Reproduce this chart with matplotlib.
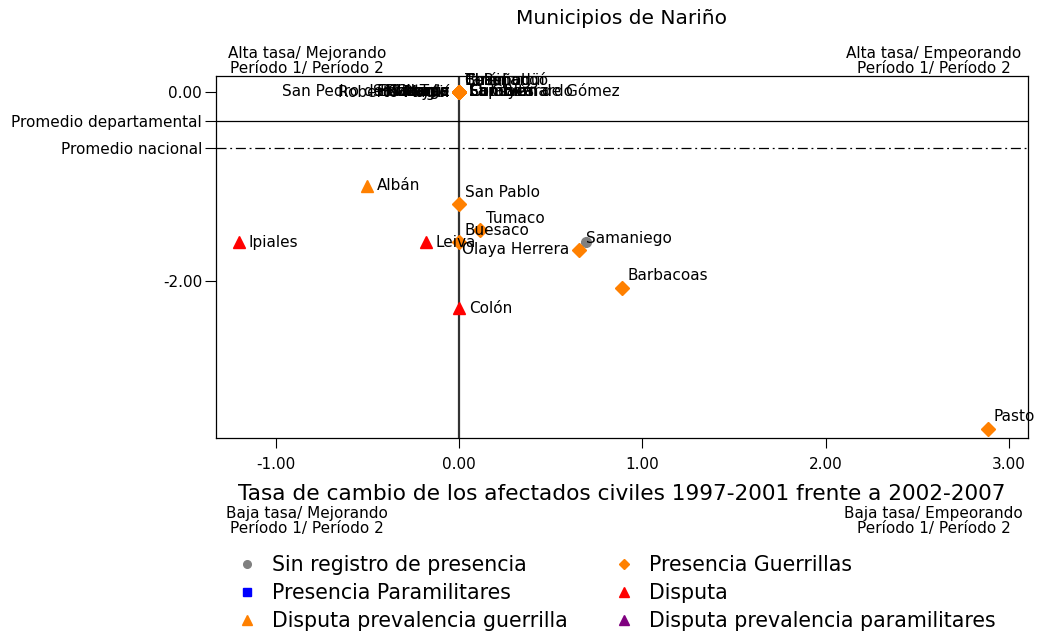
import matplotlib.pyplot as plt
from matplotlib.lines import Line2D

plt.rcParams['font.family'] = ['DejaVu Sans']

# municipios: nombre, tasa (eje x), valor (eje y), grupo
nombres = ["Albán", "San Pablo", "Tumaco", "Buesaco", "Leiva", "Olaya Herrera",
           "Samaniego", "Barbacoas", "Ipiales", "Colón", "Pasto",
           # grupo en el origen
           "San Pedro de Cartago", "Policarpa", "Roberto Payán", "Santacruz", "Magüí",
           "La Tola", "El Charco", "Mallama", "Ricaurte",
           "Cumbitara", "Sapuyes", "Consacá", "La Cruz", "San Bernardo", "El Tablón de Gómez",
           "Belén", "Chachagüí", "Cuaspud", "Taminango", "El Peñol"]
tasa_x = [-0.50, 0.00, 0.115, 0.00, -0.18, 0.655,
          0.69, 0.89, -1.20, 0.00, 2.885,
          0, 0, 0, 0, 0, 0, 0, 0, 0,
          0, 0, 0, 0, 0, 0,
          0, 0, 0, 0, 0]
valor_y = [-0.99, -1.19, -1.46, -1.59, -1.59, -1.67,
           -1.59, -2.07, -1.59, -2.29, -3.56,
           0, 0, 0, 0, 0, 0, 0, 0, 0,
           0, 0, 0, 0, 0, 0,
           0, 0, 0, 0, 0]
grupo = ["dpg", "pg", "pg", "pg", "d", "pg",
         "sr", "pg", "d", "d", "pg",
         "pg", "pg", "pg", "pg", "pg", "pg", "pg", "pg", "pg",
         "pg", "pg", "pg", "pg", "pg", "pg",
         "pg", "pg", "pg", "pg", "pg"]

prom_departamental = -0.307
prom_nacional = -0.593

# posicion de la etiqueta (tipo reloj)
pos_etiqueta = {"San Pablo": 1, "Tumaco": 1, "Buesaco": 1, "Barbacoas": 1, "Pasto": 1,
                "Samaniego": 2, "Olaya Herrera": 9,
                "San Pedro de Cartago": 9, "Policarpa": 9, "Roberto Payán": 9, "Santacruz": 9,
                "Magüí": 9, "La Tola": 9, "El Charco": 9, "Mallama": 9, "Ricaurte": 9,
                "Belén": 12, "Chachagüí": 12, "Cuaspud": 12, "Taminango": 12, "El Peñol": 12}
offsets = {3: (7, 0), 1: (4, 8.5), 2: (0, 3), 9: (-7, 0), 12: (4, 8.5)}

estilos = {
    "sr": ("Sin registro de presencia", "o", "#808080", 7),
    "pp": ("Presencia Paramilitares", "s", "#0000ff", 7),
    "dpg": ("Disputa prevalencia guerrilla", "^", "#ff8000", 8),
    "pg": ("Presencia Guerrillas", "D", "#ff8000", 7),
    "d": ("Disputa", "^", "#ff0000", 8),
    "dpp": ("Disputa prevalencia paramilitares", "^", "#800080", 8),
}

fig = plt.figure(figsize=(10.4, 6.32), dpi=100)
ax = fig.add_axes([0.2077, 0.307, 0.7808, 0.5728])

ax.axvline(0, color="#333333", lw=1.6, zorder=1)
ax.axhline(prom_departamental, color="black", lw=0.9, zorder=1)
ax.axhline(prom_nacional, color="black", lw=0.9, ls=(0, (8, 3, 1.5, 3)), zorder=1)

for g, (lab, mk, col, ms) in estilos.items():
    xs = [x for x, gg in zip(tasa_x, grupo) if gg == g]
    ys = [y for y, gg in zip(valor_y, grupo) if gg == g]
    ax.plot(xs, ys, ls="none", marker=mk, color=col, ms=ms, zorder=3)

for n, x, y in zip(nombres, tasa_x, valor_y):
    p = pos_etiqueta.get(n, 3)
    dx, dy = offsets[p]
    ha = "right" if p == 9 else "left"
    ax.annotate(n, (x, y), xytext=(dx, dy), textcoords="offset points",
                ha=ha, va="center", fontsize=11, zorder=4)

ax.set_xlim(-1.326, 3.104)
ax.set_ylim(-3.66, 0.169)
ax.set_xticks([-1, 0, 1, 2, 3])
ax.set_xticklabels(["-1.00", "0.00", "1.00", "2.00", "3.00"], fontsize=11)
ax.set_yticks([0, prom_departamental, prom_nacional, -2])
ax.set_yticklabels(["0.00", "Promedio departamental", "Promedio nacional", "-2.00"], fontsize=11)
ax.tick_params(axis="y", length=8, width=0.8, pad=2)
ax.tick_params(axis="x", length=7.5, width=0.8, pad=6.5)
for s in ax.spines.values():
    s.set_linewidth(0.9)

ax.set_xlabel("Tasa de cambio de los afectados civiles 1997-2001 frente a 2002-2007",
              fontsize=15.6, labelpad=8)
fig.text(0.5976, 0.9715, "Municipios de Nariño", ha="center", va="center", fontsize=14.5)

kw = dict(fontsize=11, linespacing=1.0)
fig.text(0.295, 0.9035, "Alta tasa/ Mejorando\nPeríodo 1/ Período 2", ha="center", va="center", **kw)
fig.text(0.8975, 0.9035, "Alta tasa/ Empeorando\nPeríodo 1/ Período 2", ha="center", va="center", **kw)
fig.text(0.295, 0.1764, "Baja tasa/ Mejorando\nPeríodo 1/ Período 2", ha="center", va="center", **kw)
fig.text(0.8975, 0.1764, "Baja tasa/ Empeorando\nPeríodo 1/ Período 2", ha="center", va="center", **kw)

orden = ["sr", "pp", "dpg", "pg", "d", "dpp"]
handles = [Line2D([], [], ls="none", marker=estilos[g][1], color=estilos[g][2],
                  ms=estilos[g][3] - 1.5, label=estilos[g][0]) for g in orden]
fig.legend(handles=handles, ncol=2, loc="upper left", bbox_to_anchor=(0.228, 0.1219),
           frameon=False, fontsize=14.8, handlelength=1.0, handletextpad=0.7,
           columnspacing=2.25, labelspacing=0.4, borderaxespad=0, borderpad=0)

fig.savefig("out.png", dpi=100)
